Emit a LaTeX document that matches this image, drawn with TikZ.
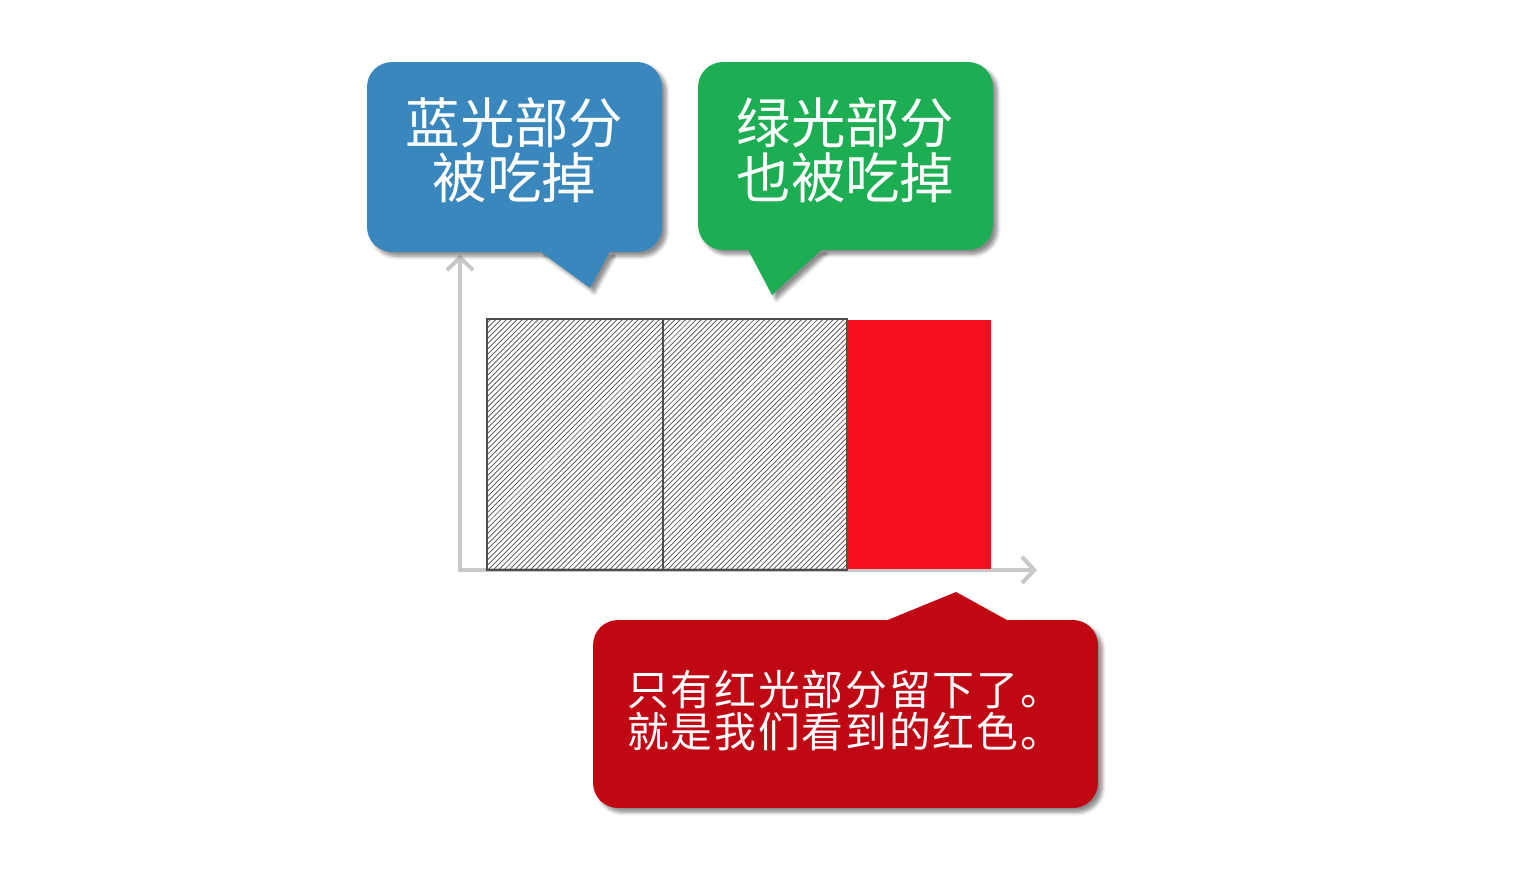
\documentclass[tikz,border=0pt]{standalone}
\usepackage{fontspec}
\newfontfamily\cjk{Noto Sans CJK SC}
\usetikzlibrary{calc, positioning, arrows.meta, shadows.blur, patterns, backgrounds}
\definecolor{Lanse}{RGB}{58,135,189}
\definecolor{Lvse}{RGB}{29,173,83}
\definecolor{Hongse}{RGB}{246,14,30}
\definecolor{Anhong}{RGB}{191,8,20}
\definecolor{Zhouse}{RGB}{200,200,200}

\begin{document}
\begin{tikzpicture}[x=0.02cm, y=-0.02cm,
    yinying/.style={
        blur shadow={shadow xshift=2.5pt, shadow yshift=-2.5pt,
                     shadow opacity=45, shadow blur steps=6,
                     shadow blur radius=2pt}},
    bubble/.style={
        rectangle, rounded corners=0.5cm, yinying,
        minimum width=5.9cm, minimum height=3.8cm, inner sep=0pt},
    bubbletext/.style={
        text=white, align=center, inner sep=0pt,
        font=\cjk\fontsize{31}{31.5}\selectfont},
    hatchbar/.style={
        rectangle, draw=black!70, line width=0.8pt,
        pattern=north east lines, pattern color=black!70,
        minimum height=5.02cm, inner sep=0pt, outer sep=0pt},
    axis/.style={
        draw=Zhouse, line width=2.3pt,
        {Straight Barb[length=7pt, width=15pt]}-{Straight Barb[length=7pt, width=15pt]}}]
  \useasboundingbox (0,0) rectangle (1520,884);
  % 坐标轴
  \coordinate (origin) at (460,570);
  \coordinate (ytop) at (460,255);
  \coordinate (xend) at (1037,570);
  \draw[axis] (ytop) -- (origin) -- (xend);
  % 光谱条
  \node[hatchbar, minimum width=3.52cm] (barlan) at (575,444.5) {};
  \node[hatchbar, minimum width=3.68cm, right=0pt of barlan] (barlv) {};
  \node[rectangle, fill=Hongse, minimum width=2.88cm, minimum height=4.98cm,
        inner sep=0pt, outer sep=0pt, right=0pt of barlv] (barhong) {};
  % 蓝色气泡
  \node[bubble, fill=Lanse] (lan) at (514.5,157) {};
  \coordinate (lanjian) at (590,288);
  \fill[Lanse, yinying] ($(lan.south)+(25.5,-1)$) -- (lanjian)
    -- ($(lan.south)+(95.5,-1)$) -- cycle;
  \node[bubbletext] (lanwen) at ($(lan.center)+(0,-7)$) {蓝光部分\\被吃掉};
  % 绿色气泡
  \node[bubble, fill=Lvse, minimum height=3.76cm] (lv) at (845.5,156) {};
  \coordinate (lvjian) at (772,295);
  \fill[Lvse, yinying] ($(lv.south)+(-97.5,-1)$) -- (lvjian)
    -- ($(lv.south)+(-23.5,-1)$) -- cycle;
  \node[bubbletext] (lvwen) at ($(lv.center)+(0,-6)$) {绿光部分\\也被吃掉};
  % 红色气泡
  \node[bubble, fill=Anhong, minimum width=10.1cm, minimum height=3.76cm]
    (hong) at (845.5,714) {};
  \node[bubbletext, align=left, anchor=west,
        font=\cjk\fontsize{23.8}{24}\selectfont\addfontfeature{LetterSpace=4.5}]
    (hongwen) at ($(hong.west)+(34,-3)$) {只有红光部分留下了。\\就是我们看到的红色。};
  \coordinate (hongjian) at (956,592);
  \begin{pgfonlayer}{background}
    \fill[Anhong, yinying] ($(hong.north)+(40.5,1)$) -- (hongjian)
      -- ($(hong.north)+(162.5,1)$) -- cycle;
  \end{pgfonlayer}
\end{tikzpicture}
\end{document}
